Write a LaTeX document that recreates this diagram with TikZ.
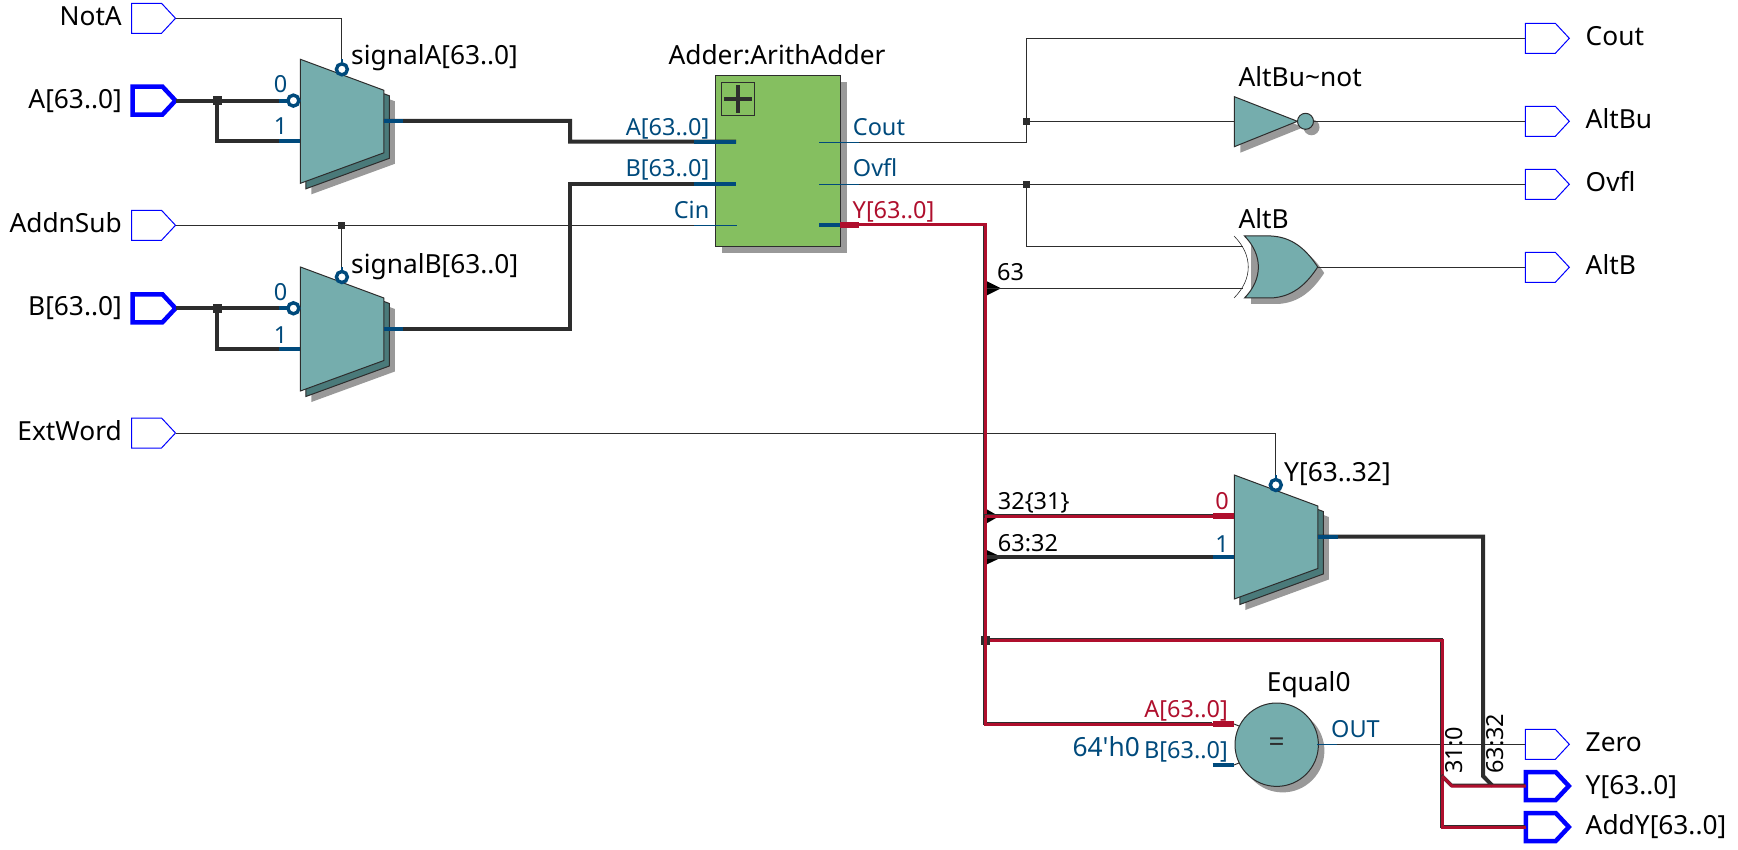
\documentclass[tikz,border=0pt]{standalone}
\usepackage{fontspec}
\setmainfont{Noto Sans}
\usetikzlibrary{shapes.symbols}
\definecolor{wirecol}{HTML}{2D2D2D}
\definecolor{pincol}{HTML}{004A7C}
\definecolor{portcol}{HTML}{0000FF}
\definecolor{redcol}{HTML}{AF0F2D}
\definecolor{tealcol}{HTML}{75ADAD}
\definecolor{darkteal}{HTML}{4A7A7A}
\definecolor{shadecol}{HTML}{999999}
\definecolor{addercol}{HTML}{85BF60}
\tikzstyle{wire} = [draw=wirecol, line width=1pt]
\tikzstyle{bus} = [draw=wirecol, line width=4pt]
\tikzstyle{redbus} = [draw=redcol, line width=3pt, preaction={draw=wirecol, line width=3.6pt, transform canvas={shift={(-0.6pt,0.6pt)}}}]
\tikzstyle{thinstub} = [draw=pincol, line width=1pt]
\tikzstyle{stub} = [draw=pincol, line width=4pt]
\tikzstyle{redstub} = [draw=redcol, line width=6pt]
\tikzstyle{port} = [signal, signal to=east, signal pointer angle=94, draw=portcol, line width=1pt, minimum width=44pt, minimum height=30pt, inner sep=0pt, outer sep=0pt, anchor=west]
\tikzstyle{busport} = [port, line width=4.5pt, minimum width=43pt, minimum height=28pt]
\tikzstyle{junction} = [rectangle, fill=wirecol, minimum size=7pt, inner sep=0pt]
\tikzstyle{invpin} = [circle, draw=pincol, line width=3.4pt, fill=white, minimum size=11pt, inner sep=0pt]
\tikzstyle{lbl} = [inner sep=0pt, yshift=-1.5pt, font=\fontsize{26.3}{30}\selectfont, text=black]
\tikzstyle{smlbl} = [inner sep=0pt, yshift=-1pt, font=\fontsize{23.5}{28}\selectfont, text=black]
\tikzstyle{vertlbl} = [inner sep=0pt, font=\fontsize{23.5}{28}\selectfont, text=black, anchor=base west, rotate=90]
\tikzstyle{pinlbl} = [smlbl, text=pincol]
\tikzstyle{redlbl} = [smlbl, text=redcol]
\tikzstyle{body} = [draw=wirecol, line width=1pt, fill=tealcol]
\newcommand{\muxnode}[3]{
   \begin{scope}[shift={(#2,#3)}]
      \fill[shadecol] (11,11) -- (94.5,42) -- (94.5,104.5) -- (11,135) -- cycle;
      \filldraw[draw=wirecol, line width=1pt, fill=darkteal] (5.5,5.5) -- (89,36.5) -- (89,99) -- (5.5,129.5) -- cycle;
      \path[body] (0,0) -- (83.5,31) -- (83.5,93.5) -- (0,124) -- cycle;
      \coordinate (#1In0) at (0,41.3);
      \coordinate (#1In1) at (0,82.2);
      \coordinate (#1Sel) at (41.5,10);
      \coordinate (#1Out) at (83.5,61.6);
   \end{scope}
}

\begin{document}
\begin{tikzpicture}[x=1pt, y=-1pt]
   \path[use as bounding box] (0,0) rectangle (1738,850);

   % input and output pins
   \node (NotAPort) at (131.5,18.3) [port] {};
   \node (APort) at (132.5,100.6) [busport] {};
   \node (AddnSubPort) at (131.5,225.3) [port] {};
   \node (BPort) at (132.5,308.3) [busport] {};
   \node (ExtWordPort) at (131.5,433) [port] {};
   \node (CoutPort) at (1525.3,38.3) [port] {};
   \node (AltBuPort) at (1525.3,121.3) [port] {};
   \node (OvflPort) at (1525.3,184.3) [port] {};
   \node (AltBPort) at (1525.3,267.3) [port] {};
   \node (ZeroPort) at (1525.3,744.3) [port] {};
   \node (YPort) at (1525.8,786) [busport] {};
   \node (AddYPort) at (1525.8,827) [busport] {};

   \node (NotALabel) at (122,24) [lbl, anchor=base east] {NotA};
   \node (ALabel) at (122,107) [lbl, anchor=base east] {A[63..0]};
   \node (AddnSubLabel) at (122,231) [lbl, anchor=base east] {AddnSub};
   \node (BLabel) at (122,314) [lbl, anchor=base east] {B[63..0]};
   \node (ExtWordLabel) at (122,439) [lbl, anchor=base east] {ExtWord};
   \node (CoutLabel) at (1585.5,44.3) [lbl, anchor=base west] {Cout};
   \node (AltBuLabel) at (1585.5,127) [lbl, anchor=base west] {AltBu};
   \node (OvflLabel) at (1585.5,190) [lbl, anchor=base west] {Ovfl};
   \node (AltBLabel) at (1585.5,273) [lbl, anchor=base west] {AltB};
   \node (ZeroLabel) at (1585.5,750) [lbl, anchor=base west] {Zero};
   \node (YLabel) at (1585.5,792.7) [lbl, anchor=base west] {Y[63..0]};
   \node (AddYLabel) at (1585.5,833) [lbl, anchor=base west] {AddY[63..0]};

   % adder block
   \node (AdderShadow) at (784.5,167.5) [rectangle, fill=shadecol, minimum width=125.4pt, minimum height=171.4pt] {};
   \node (ArithAdder) at (778,161) [rectangle, draw=wirecol, line width=1pt, fill=addercol, minimum width=125.4pt, minimum height=171.4pt] {};
   \node (PlusBox) at (738,99) [rectangle, draw=wirecol, line width=1pt, minimum size=33.4pt, inner sep=0pt] {};
   \draw[draw=wirecol, line width=3.5pt] ([xshift=-14pt]PlusBox.center) -- ([xshift=14pt]PlusBox.center);
   \draw[draw=wirecol, line width=3.5pt] ([yshift=-14pt]PlusBox.center) -- ([yshift=14pt]PlusBox.center);
   \node (AdderTitle) at (777,63.3) [lbl, anchor=base] {Adder:ArithAdder};
   \node (AdderALabel) at (709.5,135) [pinlbl, anchor=base east] {A[63..0]};
   \node (AdderBLabel) at (709.5,175.7) [pinlbl, anchor=base east] {B[63..0]};
   \node (AdderCinLabel) at (709.5,217.3) [pinlbl, anchor=base east] {Cin};
   \node (AdderCoutLabel) at (852.7,135) [pinlbl, anchor=base west] {Cout};
   \node (AdderOvflLabel) at (852.7,175.7) [pinlbl, anchor=base west] {Ovfl};
   \node (AdderYLabel) at (852.5,217.3) [redlbl, anchor=base west] {Y[63..0]};
   \coordinate (AdderA) at (736,141.7);
   \coordinate (AdderB) at (736,183.7);
   \coordinate (AdderCin) at (737,225.3);
   \coordinate (AdderCout) at (819,142.3);
   \coordinate (AdderOvfl) at (819,184.3);
   \coordinate (AdderY) at (819,225);
   \coordinate (AdderYEdge) at (840,225);

   % muxes
   \muxnode{MuxA}{300.4}{59.3}
   \muxnode{MuxB}{300.4}{267}
   \muxnode{MuxC}{1234.3}{475}
   \node (SignalALabel) at (351,63.3) [lbl, anchor=base west] {signalA[63..0]};
   \node (SignalBLabel) at (351,271.7) [lbl, anchor=base west] {signalB[63..0]};
   \node (MuxCLabel) at (1284,480) [lbl, anchor=base west] {Y[63..32]};
   \node (MuxAZero) at (280.5,91.7) [pinlbl, anchor=base] {0};
   \node (MuxAOne) at (280.5,134) [pinlbl, anchor=base] {1};
   \node (MuxBZero) at (280.5,300) [pinlbl, anchor=base] {0};
   \node (MuxBOne) at (280.5,342.3) [pinlbl, anchor=base] {1};
   \node (MuxCZero) at (1222,508.3) [redlbl, anchor=base] {0};
   \node (MuxCOne) at (1222,551) [pinlbl, anchor=base] {1};

   % inverter
   \fill[shadecol] (1240.3,102.7) -- (1303.4,127.3) -- (1240.3,152.7) -- cycle;
   \node (BubbleShadow) at (1311.5,127.3) [circle, fill=shadecol, minimum size=16pt, inner sep=0pt] {};
   \path[body] (1234.3,96.7) -- (1297.4,121.3) -- (1234.3,146.7) -- cycle;
   \node (NotBubble) at (1305.5,121.3) [circle, body, minimum size=16pt, inner sep=0pt] {};
   \coordinate (NotIn) at (1234.3,121.3);
   \node (NotLabel) at (1238.4,84.7) [lbl, anchor=base west] {AltBu\textasciitilde not};

   % xor gate
   \fill[shadecol] (1251,242) -- (1277.5,242) .. controls (1298.5,243) and (1312.5,255) .. (1324.2,273) .. controls (1312.5,291) and (1298.5,303) .. (1277.5,304) -- (1251,304) -- cycle;
   \draw[draw=wirecol, line width=0.6pt] (1234,236) .. controls (1253,255) and (1253,279) .. (1234,298);
   \path[body] (1244.5,236) .. controls (1263,255) and (1263,279) .. (1244.5,298) -- (1271,298) .. controls (1292,297) and (1306,285) .. (1317.7,267) .. controls (1306,249) and (1292,237) .. (1271,236) -- cycle;
   \coordinate (XorInA) at (1242.5,246.3);
   \coordinate (XorInB) at (1242.5,288.3);
   \coordinate (XorOut) at (1317.7,267.3);
   \node (XorLabel) at (1238.4,226.7) [lbl, anchor=base west] {AltB};

   % comparator
   \node (EqualShadow) at (1282.7,750.7) [circle, fill=shadecol, minimum size=83.4pt, inner sep=0pt] {};
   \node (EqualZero) at (1276.7,744.7) [circle, body, minimum size=83.4pt, inner sep=0pt, text=wirecol, font=\fontsize{28}{30}\selectfont] {=};
   \coordinate (EqualA) at (1234,724);
   \coordinate (EqualAStub) at (1212.7,724);
   \coordinate (EqualB) at (1234,765);
   \coordinate (EqualBStub) at (1212.7,765);
   \node (EqualLabel) at (1266.7,690) [lbl, anchor=base west] {Equal0};
   \node (EqualALabel) at (1228,716) [redlbl, anchor=base east] {A[63..0]};
   \node (EqualBLabel) at (1228,757.7) [pinlbl, anchor=base east] {B[63..0]};
   \node (ConstLabel) at (1140,755) [lbl, text=pincol, anchor=base east] {64\textquotesingle h0};
   \node (EqualOutLabel) at (1331,736.7) [pinlbl, anchor=base west] {OUT};
   \coordinate (EqualOut) at (1317,744.3);

   % thin nets
   \node (MuxASelPin) at (MuxASel) [invpin] {};
   \node (MuxBSelPin) at (MuxBSel) [invpin] {};
   \node (MuxCSelPin) at (MuxCSel) [invpin] {};
   \node (AddnSubJunc) at (341.9,225.3) [junction] {};
   \node (CoutJunc) at (1026.3,121.3) [junction] {};
   \node (OvflJunc) at (1026.3,184.3) [junction] {};
   \draw[wire] (NotAPort.east) -| (MuxASelPin.north);
   \draw[wire] (AddnSubPort.east) -- (AdderCin);
   \draw[wire] (AddnSubJunc) -- (MuxBSelPin.north);
   \draw[wire] (ExtWordPort.east) -| (MuxCSelPin.north);
   \draw[wire] (AdderCout) -| (CoutJunc) |- (CoutPort.west);
   \draw[wire] (CoutJunc) -- (NotIn);
   \draw[wire] (NotBubble.east) -- (AltBuPort.west);
   \draw[wire] (AdderOvfl) -- (OvflPort.west);
   \draw[wire] (OvflJunc) |- (XorInA);
   \draw[wire] (XorOut) -- (AltBPort.west);
   \draw[wire] (EqualOut) -- (ZeroPort.west);
   \draw[wire] (EqualA) -- (1239,726);
   \draw[wire] (EqualB) -- (1239,763);

   % tap triangles and junctions on the result bus
   \coordinate (TapTop) at (985,288.3);
   \coordinate (TapZero) at (985,516.3);
   \coordinate (TapOne) at (985,557.2);
   \node (BusJunc) at (985,640) [junction, minimum size=9pt] {};
   \node (TapTopLabel) at (997,279.3) [smlbl, anchor=base west] {63};
   \node (TapZeroLabel) at (997.7,508.3) [smlbl, anchor=base west] {32\{31\}};
   \node (TapOneLabel) at (997.7,550) [smlbl, anchor=base west] {63:32};
   \fill[black] ([yshift=-8pt]TapTop) -- ([xshift=16pt]TapTop) -- ([yshift=8pt]TapTop) -- cycle;
   \fill[black] ([yshift=-8pt]TapZero) -- ([xshift=14pt]TapZero) -- ([yshift=8pt]TapZero) -- cycle;
   \fill[black] ([yshift=-8pt]TapOne) -- ([xshift=17pt]TapOne) -- ([yshift=8pt]TapOne) -- cycle;
   \draw[wire] (TapTop) -- (XorInB);

   % data buses
   \node (AJunc) at (217,100.6) [junction, minimum size=9pt] {};
   \node (BJunc) at (217,308.3) [junction, minimum size=9pt] {};
   \draw[bus] (APort.east) -- (MuxAIn0);
   \draw[bus] (AJunc) |- (MuxAIn1);
   \draw[bus] (BPort.east) -- (MuxBIn0);
   \draw[bus] (BJunc) |- (MuxBIn1);
   \draw[bus] (MuxAOut) -- (570,120.9) -- (570,141.7) -- (AdderA);
   \draw[bus] (MuxBOut) -- (570,328.6) -- (570,183.7) -- (AdderB);
   \draw[bus] (TapOne) -- (MuxCIn1);
   \draw[bus] (MuxCOut) -- (1483,536.6) -- (1483,776) -- (1492.7,786);
   \draw[redbus] (AdderYEdge) -- (985,225) -- (985,724) -- (EqualAStub);
   \draw[redbus] (TapZero) -- (MuxCIn0);
   \draw[redbus] (BusJunc) -- (1442,640) -- (1442,827) -- (AddYPort.west);
   \draw[redbus] (1442,776) -- (1452,786) -- (YPort.west);

   % pin stubs
   \draw[stub] ([xshift=-21pt]MuxAIn0) -- (MuxAIn0);
   \draw[stub] ([xshift=-21pt]MuxAIn1) -- (MuxAIn1);
   \draw[stub] ([xshift=-21pt]MuxBIn0) -- (MuxBIn0);
   \draw[stub] ([xshift=-21pt]MuxBIn1) -- (MuxBIn1);
   \draw[stub] ([xshift=-21pt]MuxCIn1) -- (MuxCIn1);
   \draw[redstub] ([xshift=-21pt]MuxCIn0) -- (MuxCIn0);
   \draw[stub] (MuxAOut) -- ([xshift=19pt]MuxAOut);
   \draw[stub] (MuxBOut) -- ([xshift=19pt]MuxBOut);
   \draw[stub] (MuxCOut) -- ([xshift=20pt]MuxCOut);
   \draw[stub] ([xshift=-42pt]AdderA) -- (AdderA);
   \draw[stub] ([xshift=-42pt]AdderB) -- (AdderB);
   \draw[thinstub] ([xshift=-43pt]AdderCin) -- (AdderCin);
   \draw[thinstub] (AdderCout) -- ([xshift=40pt]AdderCout);
   \draw[thinstub] (AdderOvfl) -- ([xshift=40pt]AdderOvfl);
   \draw[stub] (AdderY) -- (AdderYEdge);
   \draw[redstub] (AdderYEdge) -- ([xshift=19pt]AdderYEdge);
   \draw[redstub] (EqualAStub) -- (EqualA);
   \draw[stub] (EqualBStub) -- (EqualB);
   \draw[thinstub] (EqualOut) -- (1337,744.3);

   % inverted pins on top of the buses
   \node (MuxAInvPin) at ([xshift=-7pt]MuxAIn0) [invpin] {};
   \node (MuxBInvPin) at ([xshift=-7pt]MuxBIn0) [invpin] {};
   \draw[stub, line width=2.6pt] (MuxASelPin.north) -- ++(0,-3);
   \draw[stub, line width=2.6pt] (MuxBSelPin.north) -- ++(0,-3);
   \draw[stub, line width=2.6pt] (MuxCSelPin.north) -- ++(0,-3);

   % bit range labels
   \node (LowBitsLabel) at (1462,774) [vertlbl] {31:0};
   \node (HighBitsLabel) at (1503,774) [vertlbl] {63:32};

\end{tikzpicture}
\end{document}
